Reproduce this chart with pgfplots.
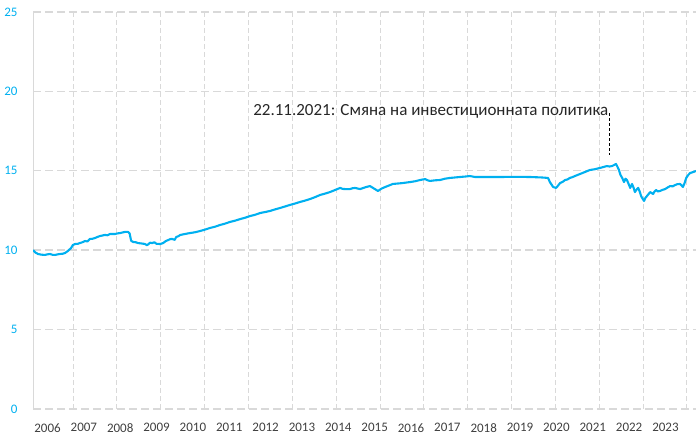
\documentclass[border=0pt]{standalone}
\usepackage{pgfplots}
\pgfplotsset{compat=1.18}
\usepackage{fontspec}
\setmainfont{Carlito}
\definecolor{lineblue}{HTML}{00B0F0}
\definecolor{gridgray}{HTML}{D9D9D9}
\definecolor{labgray}{HTML}{404040}
\begin{document}
\begin{tikzpicture}
\begin{axis}[
  scale only axis,
  width=663pt, height=397pt,
  xmin=2006.101, xmax=2024.34,
  ymin=0, ymax=25,
  ytick={0,5,10,15,20,25},
  yticklabels={0,5,10,15,20,25},
  xtick={2006.5,2007.5,2008.5,2009.5,2010.5,2011.5,2012.5,2013.5,2014.5,2015.5,2016.5,2017.5,2018.5,2019.5,2020.5,2021.5,2022.5,2023.5},
  xticklabels={2006,2007,2008,2009,2010,2011,2012,2013,2014,2015,2016,2017,2018,2019,2020,2021,2022,2023},
  minor xtick={2007.20,2008.41,2009.61,2010.82,2012.03,2013.23,2014.44,2015.65,2016.85,2018.06,2019.27,2020.48,2021.68,2022.89,2024.09},
  xmajorgrids=false, ymajorgrids=true, xminorgrids=true,
  major tick length=0pt, minor tick length=0pt,
  y grid style={gridgray, line width=1.4pt, dash pattern=on 8pt off 4pt},
  minor x grid style={gridgray, line width=0.9pt, dash pattern=on 5pt off 3pt},
  axis x line=bottom, axis y line=left,
  x axis line style={draw=none},
  y axis line style={gridgray, line width=1pt, -},
  xticklabel style={font=\fontsize{13}{15}\selectfont, text=labgray},
  yticklabel style={font=\fontsize{13}{15}\selectfont, text=lineblue},
  xticklabel shift=11pt,
  yticklabel shift=12pt,
  clip=true,
]
\addplot[lineblue, line width=2.1pt, line join=round] coordinates {
(2006.10,10.01) (2006.17,9.85) (2006.24,9.76) (2006.33,9.72) (2006.43,9.70) (2006.50,9.74) (2006.57,9.76)
(2006.64,9.71) (2006.71,9.70) (2006.78,9.74) (2006.84,9.76) (2006.92,9.78) (2006.98,9.82) (2007.06,9.95) (2007.15,10.14)
(2007.20,10.33) (2007.26,10.39) (2007.33,10.40) (2007.39,10.45) (2007.46,10.50) (2007.53,10.58) (2007.60,10.55)
(2007.67,10.71) (2007.74,10.72) (2007.81,10.77) (2007.88,10.84) (2007.94,10.89) (2008.08,10.96) (2008.15,10.94) (2008.22,11.02)
(2008.36,11.02) (2008.43,11.06) (2008.50,11.08) (2008.57,11.12) (2008.63,11.15) (2008.72,11.15) (2008.76,11.05)
(2008.80,10.60) (2008.85,10.52) (2008.93,10.50) (2008.99,10.45) (2009.10,10.42) (2009.18,10.39) (2009.23,10.32) (2009.27,10.36)
(2009.32,10.47) (2009.38,10.45) (2009.44,10.50) (2009.50,10.40) (2009.60,10.39) (2009.68,10.45) (2009.75,10.57) (2009.82,10.64)
(2009.88,10.70) (2009.93,10.71) (2010.00,10.65) (2010.04,10.83) (2010.10,10.88) (2010.15,10.96) (2010.28,11.02)
(2010.42,11.08) (2010.56,11.13) (2010.70,11.21) (2010.84,11.30) (2010.97,11.40) (2011.11,11.48) (2011.25,11.59) (2011.38,11.67) (2011.52,11.78)
(2011.66,11.86) (2011.80,11.96) (2011.93,12.04) (2012.07,12.15) (2012.21,12.23) (2012.35,12.34) (2012.48,12.40) (2012.62,12.47) (2012.76,12.57) (2012.90,12.66)
(2013.03,12.75) (2013.17,12.85) (2013.31,12.94) (2013.45,13.04) (2013.58,13.12) (2013.72,13.22) (2013.86,13.34) (2014.00,13.48) (2014.13,13.56) (2014.27,13.66)
(2014.41,13.79) (2014.55,13.92) (2014.62,13.86) (2014.68,13.85) (2014.82,13.85) (2014.89,13.90) (2014.96,13.92)
(2015.10,13.85) (2015.24,13.96) (2015.37,14.04) (2015.47,13.90) (2015.59,13.73) (2015.69,13.88) (2015.79,13.98) (2015.90,14.08) (2016.00,14.17)
(2016.24,14.22) (2016.47,14.29) (2016.61,14.34) (2016.75,14.42) (2016.89,14.48) (2016.96,14.40) (2017.02,14.36) (2017.16,14.40) (2017.30,14.42)
(2017.43,14.50) (2017.57,14.55) (2017.71,14.58) (2017.85,14.61) (2018.00,14.64) (2018.12,14.67) (2018.26,14.61) (2018.40,14.61)
(2018.95,14.61) (2019.40,14.62) (2019.77,14.61) (2020.10,14.58) (2020.27,14.55) (2020.32,14.29) (2020.41,13.98)
(2020.49,13.92) (2020.55,14.08) (2020.60,14.23) (2020.67,14.30) (2020.74,14.42) (2020.80,14.45) (2020.87,14.55) (2020.94,14.60) (2021.01,14.67)
(2021.15,14.80) (2021.28,14.92) (2021.42,15.05) (2021.56,15.10) (2021.70,15.18) (2021.89,15.30) (2021.96,15.27) (2022.03,15.30)
(2022.10,15.38) (2022.14,15.43) (2022.18,15.25) (2022.22,15.05) (2022.26,14.75) (2022.31,14.55) (2022.36,14.29) (2022.40,14.50) (2022.44,14.42)
(2022.49,14.15) (2022.53,13.92) (2022.58,14.17) (2022.62,13.95) (2022.66,13.66) (2022.70,13.80) (2022.75,13.92) (2022.79,13.70) (2022.83,13.41)
(2022.87,13.25) (2022.91,13.10) (2022.95,13.30) (2022.99,13.41) (2023.04,13.55) (2023.08,13.66) (2023.12,13.60) (2023.16,13.54) (2023.20,13.70) (2023.24,13.79)
(2023.29,13.70) (2023.35,13.73) (2023.42,13.80) (2023.49,13.85) (2023.56,13.95) (2023.63,14.04) (2023.70,14.02) (2023.76,14.10) (2023.83,14.16) (2023.90,14.17)
(2023.94,14.08) (2023.98,13.98) (2024.03,14.25) (2024.07,14.55) (2024.12,14.72) (2024.18,14.86) (2024.26,14.92) (2024.34,14.99)
};
\draw[black, line width=0.8pt, dash pattern=on 3pt off 2pt] (axis cs:2021.97,18.64) -- (axis cs:2021.97,16.0);
\node[anchor=base east, inner sep=0pt, text=black!85, font=\fontsize{17}{20}\selectfont] at (axis cs:2021.93,18.51) {22.11.2021: Смяна на инвестиционната политика};
\end{axis}
\pgfresetboundingbox
\path[use as bounding box] ([shift={(-33pt,-27pt)}]current axis.south west) rectangle ([shift={(0pt,12pt)}]current axis.north east);
\end{tikzpicture}
\end{document}
